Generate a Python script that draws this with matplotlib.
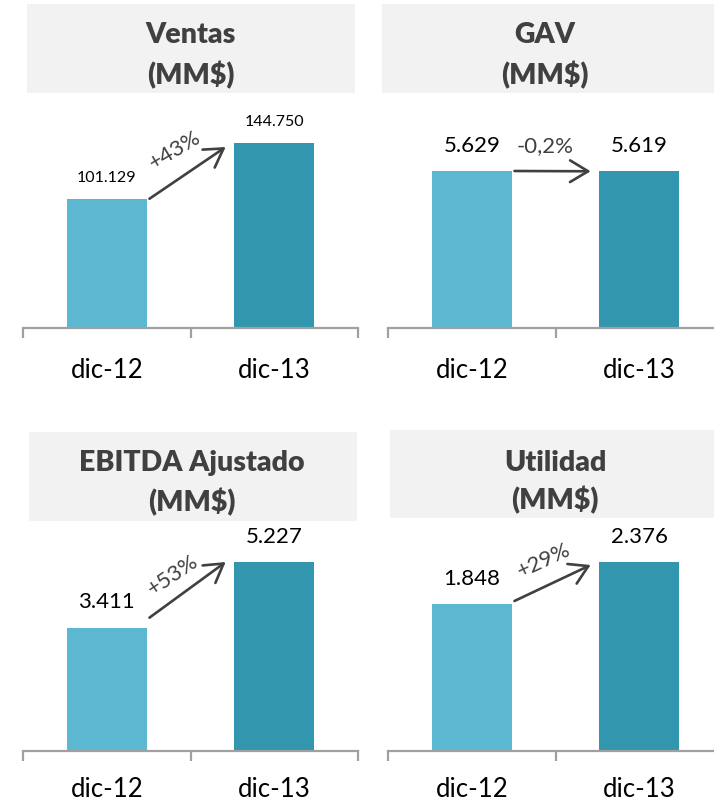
import matplotlib.pyplot as plt
from matplotlib.patches import Rectangle

plt.rcParams["font.family"] = ["Lato", "DejaVu Sans"]

# data
categories = ["dic-12", "dic-13"]
titles = ["Ventas", "GAV", "EBITDA Ajustado", "Utilidad"]
unit = "(MM$)"
ventas = [101129, 144750]
gav = [5629, 5619]
ebitda = [3411, 5227]
utilidad = [1848, 2376]
changes = ["+43%", "-0,2%", "+53%", "+29%"]

series = [ventas, gav, ebitda, utilidad]

# layout (pixels in a 714x803 canvas)
W, H = 714, 803
axes_px = [(23, 329), (388, 329), (23, 752), (388, 752)]   # left, axis line y
axes_w, axes_h = 335, 219
ymax = [171353, 7852, 6057, 2753]
boxes = [(27, 5, 355, 94), (382, 5, 714, 94), (29, 433, 357, 522), (390, 431, 714, 519)]
title_pos = [(191, 35, 75), (545, 35, 75), (192, 463, 502), (555, 463, 500)]
val_size = [11.5, 16, 16, 16]
rot = [31, 0, 34, 25]
arrow_dy = [(0, -4), (0, 0), (10, 0), (3, -3)]   # px offsets of arrow ends
lbl_off = [(-13, 24), (-7, 26), (-15, 16), (-9, 23)]
cat_pad = [21, 21, 18, 18]

c_light = "#5bb8d0"
c_dark = "#3196ae"
grey_txt = "#404040"
axis_col = "#a0a0a0"

fig = plt.figure(figsize=(W / 100, H / 100), dpi=100)

def fmt(v):
    return f"{v:,}".replace(",", ".")

for i, vals in enumerate(series):
    x0, yb = axes_px[i]
    ax = fig.add_axes([x0 / W, 1 - yb / H, axes_w / W, axes_h / H])
    ax.set_xlim(-0.5, 1.5)
    ax.set_ylim(0, ymax[i])
    ax.bar([0, 1], vals, width=0.48, color=[c_light, c_dark])

    for s in ["top", "right", "left"]:
        ax.spines[s].set_visible(False)
    ax.spines["bottom"].set_color(axis_col)
    ax.spines["bottom"].set_linewidth(1.6)
    ax.set_yticks([])
    ax.set_xticks([0, 1])
    ax.set_xticklabels(categories, fontsize=18.5, color="black")
    ax.tick_params(axis="x", which="major", length=0, pad=cat_pad[i])
    ax.set_xticks([-0.5, 0.5, 1.5], minor=True)
    ax.tick_params(axis="x", which="minor", length=7, width=1.6,
                   color=axis_col, direction="out")

    for xi, v in enumerate(vals):
        ax.annotate(fmt(v), (xi, v), xytext=(0, 19 if i else 16),
                    textcoords="offset points", ha="center", va="center",
                    fontsize=val_size[i], color="black")

    # growth arrow between the bars
    ppu = axes_h / ymax[i]
    y_start = vals[0] + arrow_dy[i][0] / ppu
    y_end = vals[1] + arrow_dy[i][1] / ppu
    xs, xe = 0.255, 0.71
    ax.annotate("", xy=(xe, y_end), xytext=(xs, y_start),
                arrowprops=dict(arrowstyle="->,head_length=0.5,head_width=0.3",
                                color=grey_txt, lw=1.9,
                                mutation_scale=26, shrinkA=0, shrinkB=0))
    ax.annotate(changes[i], ((xs + xe) / 2, (y_start + y_end) / 2),
                xytext=(lbl_off[i][0] * 0.72, lbl_off[i][1] * 0.72),
                textcoords="offset points", ha="center", va="center",
                rotation=rot[i], fontsize=16, color=grey_txt,
                fontweight="normal", annotation_clip=False)

    # title box
    bx0, by0, bx1, by1 = boxes[i]
    fig.patches.append(Rectangle((bx0 / W, 1 - by1 / H), (bx1 - bx0) / W,
                                 (by1 - by0) / H, transform=fig.transFigure,
                                 facecolor="#f2f2f2", edgecolor="none", zorder=0))
    tx, ty1, ty2 = title_pos[i]
    fig.text(tx / W, 1 - ty1 / H, titles[i], ha="center", va="center",
             fontsize=20.5, fontweight="heavy", color=grey_txt)
    fig.text(tx / W, 1 - ty2 / H, unit, ha="center", va="center",
             fontsize=20.5, fontweight="heavy", color=grey_txt)

fig.savefig("out.png", dpi=100)
